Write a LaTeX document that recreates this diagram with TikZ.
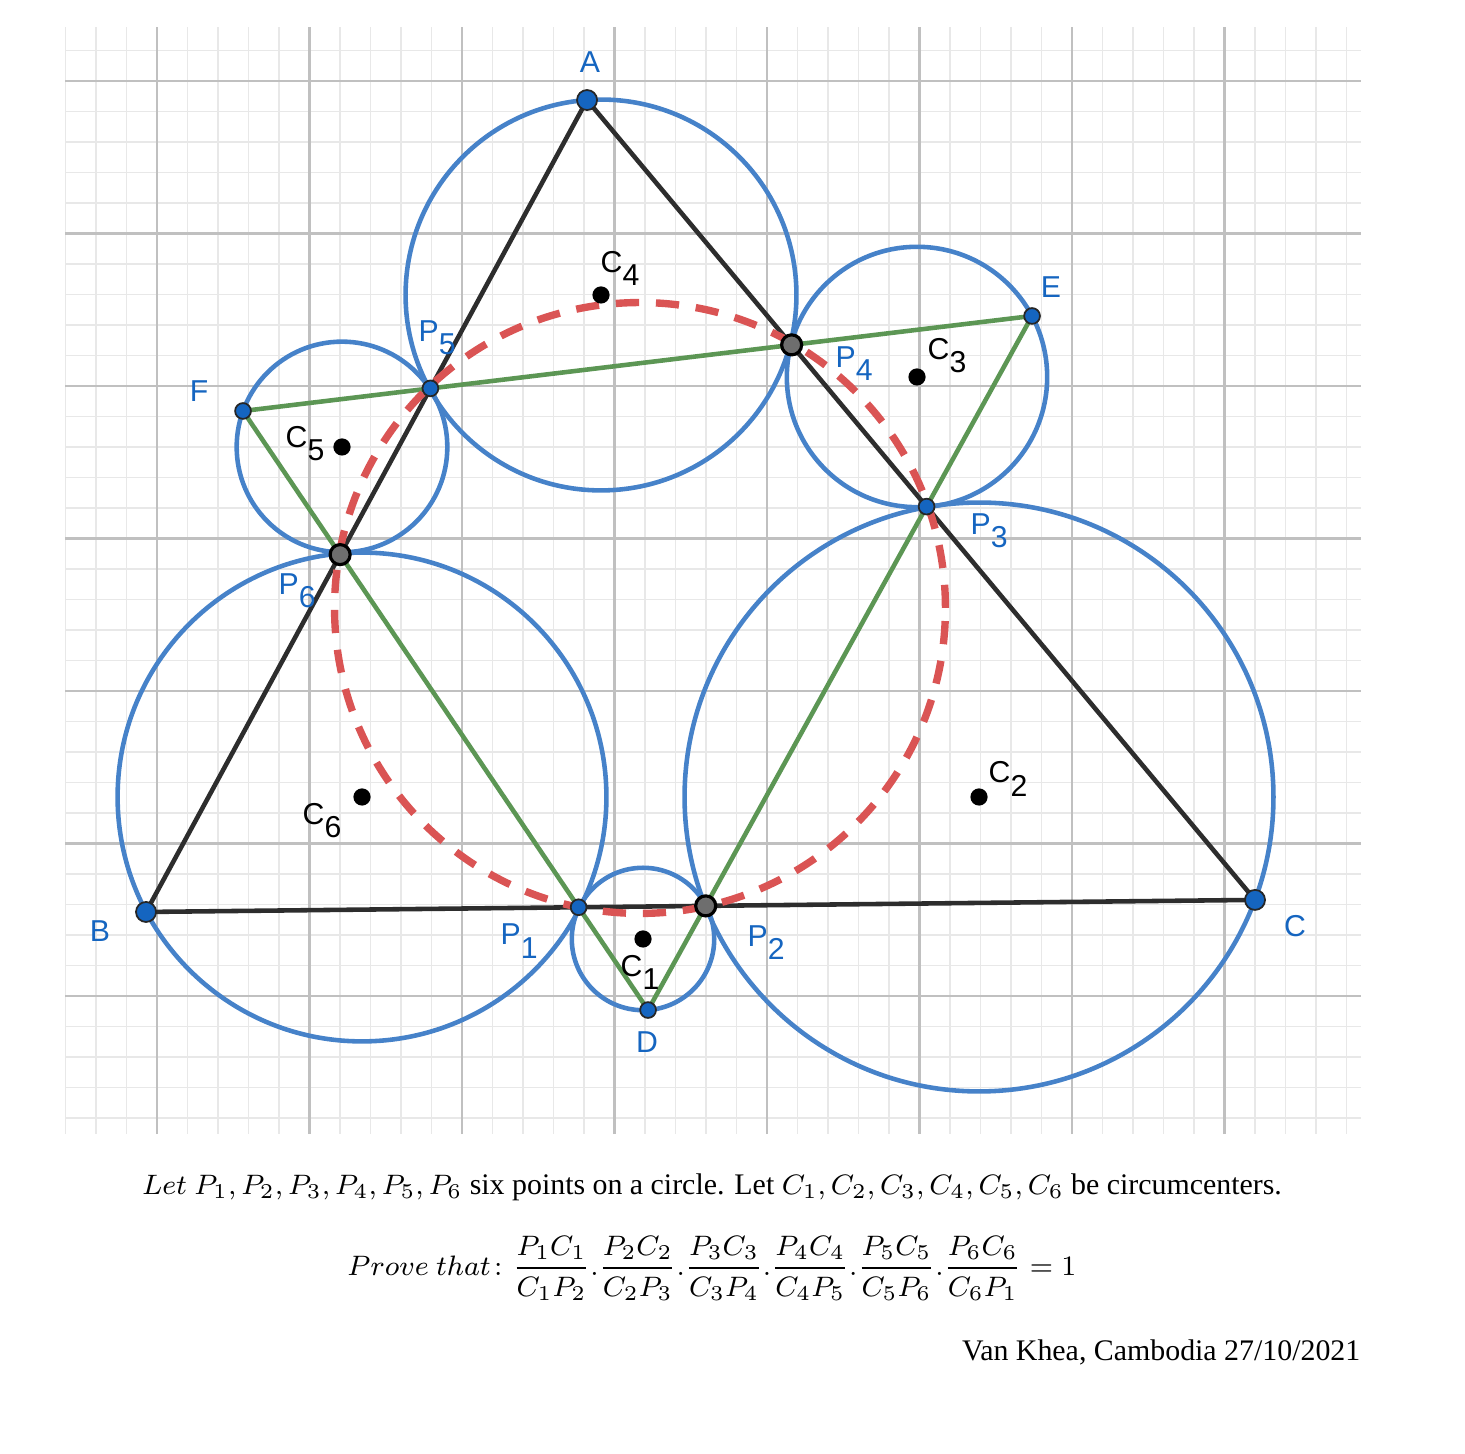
\documentclass[tikz,border=0pt]{standalone}
\usepackage{amsmath}
\usepackage{fontspec}
\setmainfont{Liberation Serif}
\newfontfamily\geofont{Liberation Sans}
\usetikzlibrary{calc}

\definecolor{gridminor}{RGB}{232,232,232}
\definecolor{gridmajor}{RGB}{192,192,192}
\definecolor{circblue}{RGB}{70,130,201}
\definecolor{ptblue}{RGB}{21,101,192}
\definecolor{seggreen}{RGB}{92,150,84}
\definecolor{segblack}{RGB}{45,45,45}
\definecolor{dashred}{RGB}{218,84,84}
\definecolor{ptgray}{RGB}{110,110,110}

% letter with a lowered index, as the geometry program prints it
\newcommand{\idx}[2]{#1\raisebox{-3.7pt}{#2}}

\tikzset{
	minorgrid/.style={gridminor, line width=0.45pt},
	majorgrid/.style={gridmajor, line width=0.6pt},
	circ/.style={circblue, line width=1.3pt},
	seg/.style={segblack, line width=1.3pt},
	gseg/.style={seggreen, line width=1.3pt},
	redcirc/.style={dashred, line width=2.1pt, dash pattern=on 6.6pt off 4.8pt},
	bluept/.style={fill=ptblue, draw=black!85, line width=0.5pt},
	graypt/.style={fill=ptgray, draw=black, line width=0.9pt},
	ctr/.style={fill=black},
	lbl/.style={inner sep=0pt, text=ptblue, font=\geofont\fontsize{8.6}{10}\selectfont},
	clbl/.style={lbl, text=black},
	capt/.style={inner sep=0pt, font=\fontsize{8.5}{10.5}\selectfont}
}

\begin{document}
\begin{tikzpicture}[x=1.525cm, y=1.525cm]
	\useasboundingbox (-1.0295,-2.997) rectangle (8.577,6.531);
	
	% grid
	\draw[minorgrid, step=0.2] (-0.603,-0.905) grid (7.895,6.354);
	\draw[majorgrid, step=1] (-0.603,-0.905) grid (7.895,6.354);
	
	% the two triangles
	\coordinate (A) at (2.82,5.875);
	\coordinate (B) at (-0.072,0.551);
	\coordinate (C) at (7.2,0.63);
	\coordinate (D) at (3.22,-0.092);
	\coordinate (E) at (5.738,4.459);
	\coordinate (F) at (0.564,3.836);
	
	\coordinate (P1) at (intersection of B--C and D--F);
	\coordinate (P2) at (intersection of B--C and D--E);
	\coordinate (P3) at (intersection of A--C and D--E);
	\coordinate (P4) at (intersection of A--C and E--F);
	\coordinate (P5) at (intersection of A--B and E--F);
	\coordinate (P6) at (intersection of A--B and D--F);
	
	% circumcenters
	\coordinate (C1) at (3.1869,0.3738);
	\coordinate (C2) at (5.3902,1.3049);
	\coordinate (C3) at (4.9836,4.0590);
	\coordinate (C4) at (2.9115,4.5967);
	\coordinate (C5) at (1.2131,3.6000);
	\coordinate (C6) at (1.3443,1.3049);
	\coordinate (O) at (3.1672,2.5443);
	
	\foreach \c/\v in {C1/D, C2/C, C3/E, C4/A, C5/F, C6/B}{
		\draw[circ] let \p1 = ($(\v)-(\c)$) in (\c) circle [radius={veclen(\x1,\y1)}];
	}
	
	\draw[seg] (A) -- (B) -- (C) -- cycle;
	\draw[gseg] (D) -- (E) -- (F) -- cycle;
	
	\draw[redcirc] let \p1 = ($(P1)-(O)$) in (O) circle [radius={veclen(\x1,\y1)}];
	
	\foreach \p in {A,B,C}{
		\filldraw[bluept] (\p) circle (2.85pt);
	}
	\foreach \p in {D,E,F,P1,P3,P5}{
		\filldraw[bluept] (\p) circle (2.25pt);
	}
	\foreach \p in {P2,P4,P6}{
		\filldraw[graypt] (\p) circle (2.85pt);
	}
	\foreach \p in {C1,C2,C3,C4,C5,C6}{
		\fill[ctr] (\p) circle (2.45pt);
	}
	
	% labels
	\node[lbl, anchor=base] (lA) at (2.8393,6.0525) {A};
	\node[lbl, anchor=base] (lB) at (-0.3738,0.3541) {B};
	\node[lbl, anchor=base] (lC) at (7.4623,0.3869) {C};
	\node[lbl, anchor=base] (lD) at (3.2131,-0.3738) {D};
	\node[lbl, anchor=base] (lE) at (5.8623,4.5770) {E};
	\node[lbl, anchor=base] (lF) at (0.2754,3.8951) {F};
	
	\node[lbl, anchor=base west] (lP1) at (2.2492,0.3344) {\idx{P}{1}};
	\node[lbl, anchor=base west] (lP2) at (3.8689,0.3213) {\idx{P}{2}};
	\node[lbl, anchor=base west] (lP3) at (5.3311,3.0230) {\idx{P}{3}};
	\node[lbl, anchor=base west] (lP4) at (4.4459,4.1180) {\idx{P}{4}};
	\node[lbl, anchor=base west] (lP5) at (1.7115,4.2885) {\idx{P}{5}};
	\node[lbl, anchor=base west] (lP6) at (0.7934,2.6295) {\idx{P}{6}};
	
	\node[clbl, anchor=base west] (lC1) at (3.0361,0.1246) {\idx{C}{1}};
	\node[clbl, anchor=base west] (lC2) at (5.4492,1.3967) {\idx{C}{2}};
	\node[clbl, anchor=base west] (lC3) at (5.0492,4.1705) {\idx{C}{3}};
	\node[clbl, anchor=base west] (lC4) at (2.9049,4.7410) {\idx{C}{4}};
	\node[clbl, anchor=base west] (lC5) at (0.8393,3.5934) {\idx{C}{5}};
	\node[clbl, anchor=base west] (lC6) at (0.9508,1.1213) {\idx{C}{6}};
	
	% statement under the figure
	\node[capt, anchor=base] (stmt) at (3.639,-1.30)
		{$Let\ P_1,P_2,P_3,P_4,P_5,P_6$ six points on a circle. Let $C_1,C_2,C_3,C_4,C_5,C_6$ be circumcenters.};
	\node[capt, anchor=base] (prove) at (3.639,-1.83)
		{$Prove\ that\colon \dfrac{P_1C_1}{C_1P_2}.\dfrac{P_2C_2}{C_2P_3}.\dfrac{P_3C_3}{C_3P_4}.\dfrac{P_4C_4}{C_4P_5}.\dfrac{P_5C_5}{C_5P_6}.\dfrac{P_6C_6}{C_6P_1}=1$};
	\node[capt, anchor=base east] (sign) at (7.895,-2.387) {Van Khea, Cambodia 27/10/2021};
\end{tikzpicture}
\end{document}
